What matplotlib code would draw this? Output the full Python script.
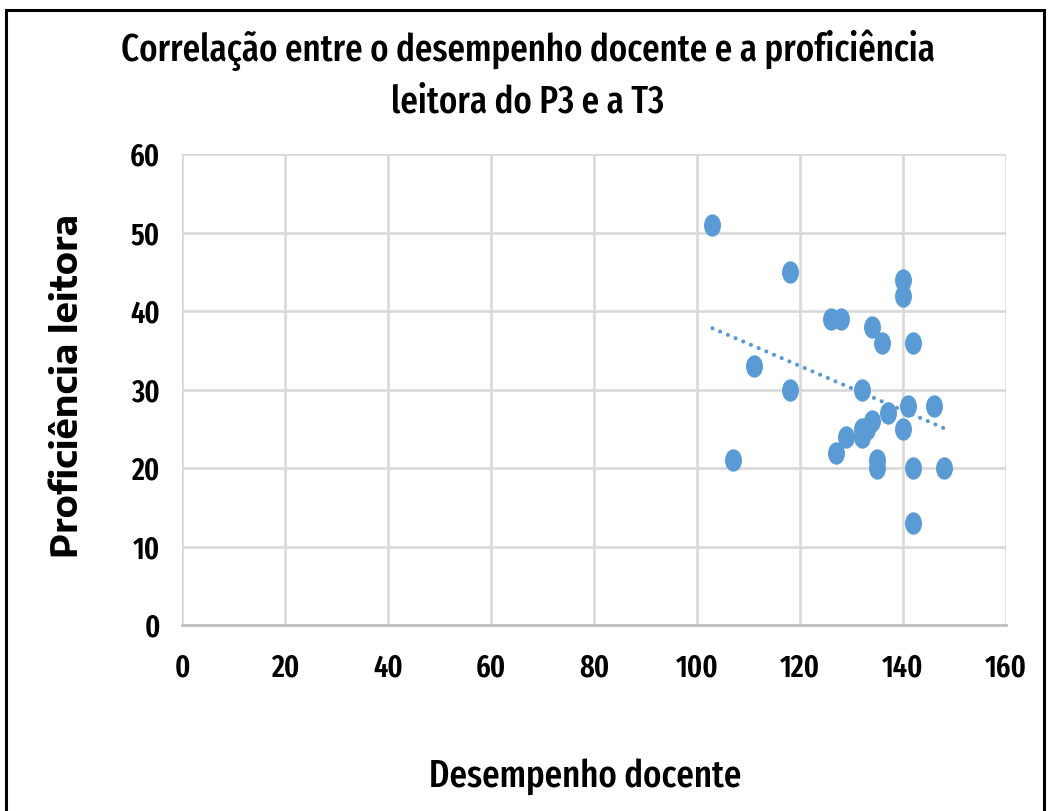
import numpy as np
import matplotlib
matplotlib.use("Agg")
import matplotlib.pyplot as plt
from matplotlib.patches import Rectangle
from matplotlib.path import Path
from matplotlib.transforms import Affine2D

desempenho = [103, 118, 140, 140, 126, 128, 134, 136, 142, 111, 118, 132, 141, 146,
              137, 134, 133, 132, 132, 129, 140, 127, 107, 135, 135, 142, 148, 142]
proficiencia = [51, 45, 44, 42, 39, 39, 38, 36, 36, 33, 30, 30, 28, 28,
                27, 26, 25, 25, 24, 24, 25, 22, 21, 21, 20, 20, 20, 13]
x_ticks = [0, 20, 40, 60, 80, 100, 120, 140, 160]
y_ticks = [0, 10, 20, 30, 40, 50, 60]
title = "Correlação entre o desempenho docente e a proficiência\nleitora do P3 e a T3"
x_label = "Desempenho docente"
y_label = "Proficiência leitora"

blue = "#5B9BD5"
cond = ["Fira Sans Extra Condensed", "DejaVu Sans"]
wide = ["Encode Sans Semi Expanded", "Liberation Sans", "DejaVu Sans"]

W, H = 1049, 811
fig = plt.figure(figsize=(W/100, H/100), dpi=100)
ax = fig.add_axes([182/W, 1-625.3/H, (1006-182)/W, (625.3-154.3)/H])

ellipse = Path.unit_circle().transformed(Affine2D().scale(1.0, 1.32))
ax.scatter(desempenho, proficiencia, s=260, marker=ellipse, color=blue,
           zorder=3, linewidths=0)

xs = np.array(desempenho, dtype=float)
ys = np.array(proficiencia, dtype=float)
m, b = np.polyfit(xs, ys, 1)
xl = np.array([xs.min(), xs.max()])
ax.plot(xl, m*xl + b, color=blue, lw=3, linestyle=(0, (0.01, 2.0)),
        dash_capstyle="round", zorder=2)

ax.set_xlim(0, 160)
ax.set_ylim(0, 60)
ax.set_xticks(x_ticks)
ax.set_yticks(y_ticks)
ax.grid(True, color="#d9d9d9", lw=1.9)
ax.set_axisbelow(True)
for s in ["top", "right", "left"]:
    ax.spines[s].set_visible(False)
ax.spines["bottom"].set_color("#bfbfbf")
ax.spines["bottom"].set_linewidth(2)
ax.tick_params(length=0)
ax.tick_params(axis="x", pad=20)
ax.tick_params(axis="y", pad=16)
for lab in ax.get_xticklabels() + ax.get_yticklabels():
    lab.set_family(cond)
    lab.set_fontweight(600)
    lab.set_fontsize(22)

t_title = fig.text(528/W, 1-75/H, title, ha="center", va="center", fontsize=27,
                   family=cond, fontweight=500, linespacing=1.45)
t_x = fig.text(585/W, 1-776/H, x_label, ha="center", va="center", fontsize=29,
               family=cond, fontweight=500)
t_y = fig.text(68/W, 1-386/H, y_label, ha="center", va="center", fontsize=21,
               family=wide, fontweight="bold", rotation=90)

# fit text extents to the reference
fig.canvas.draw()
r = fig.canvas.get_renderer()
def fit(t, target, horizontal=True):
    bb = t.get_window_extent(r)
    cur = bb.width if horizontal else bb.height
    t.set_fontsize(t.get_fontsize() * target / cur)
fit(t_x, 312)
fit(t_y, 345, horizontal=False)
tmp = fig.text(0, 0, title.split("\n")[0], fontsize=27, family=cond, fontweight=500)
bb = tmp.get_window_extent(r)
t_title.set_fontsize(27 * 815 / bb.width)
tmp.remove()

fig.patches.append(Rectangle((6/W, -0.2), (1044-6)/W, 1.2 - 10/H,
                             transform=fig.transFigure, fill=False,
                             edgecolor="black", lw=2.2))

fig.savefig("out.png", dpi=100)
